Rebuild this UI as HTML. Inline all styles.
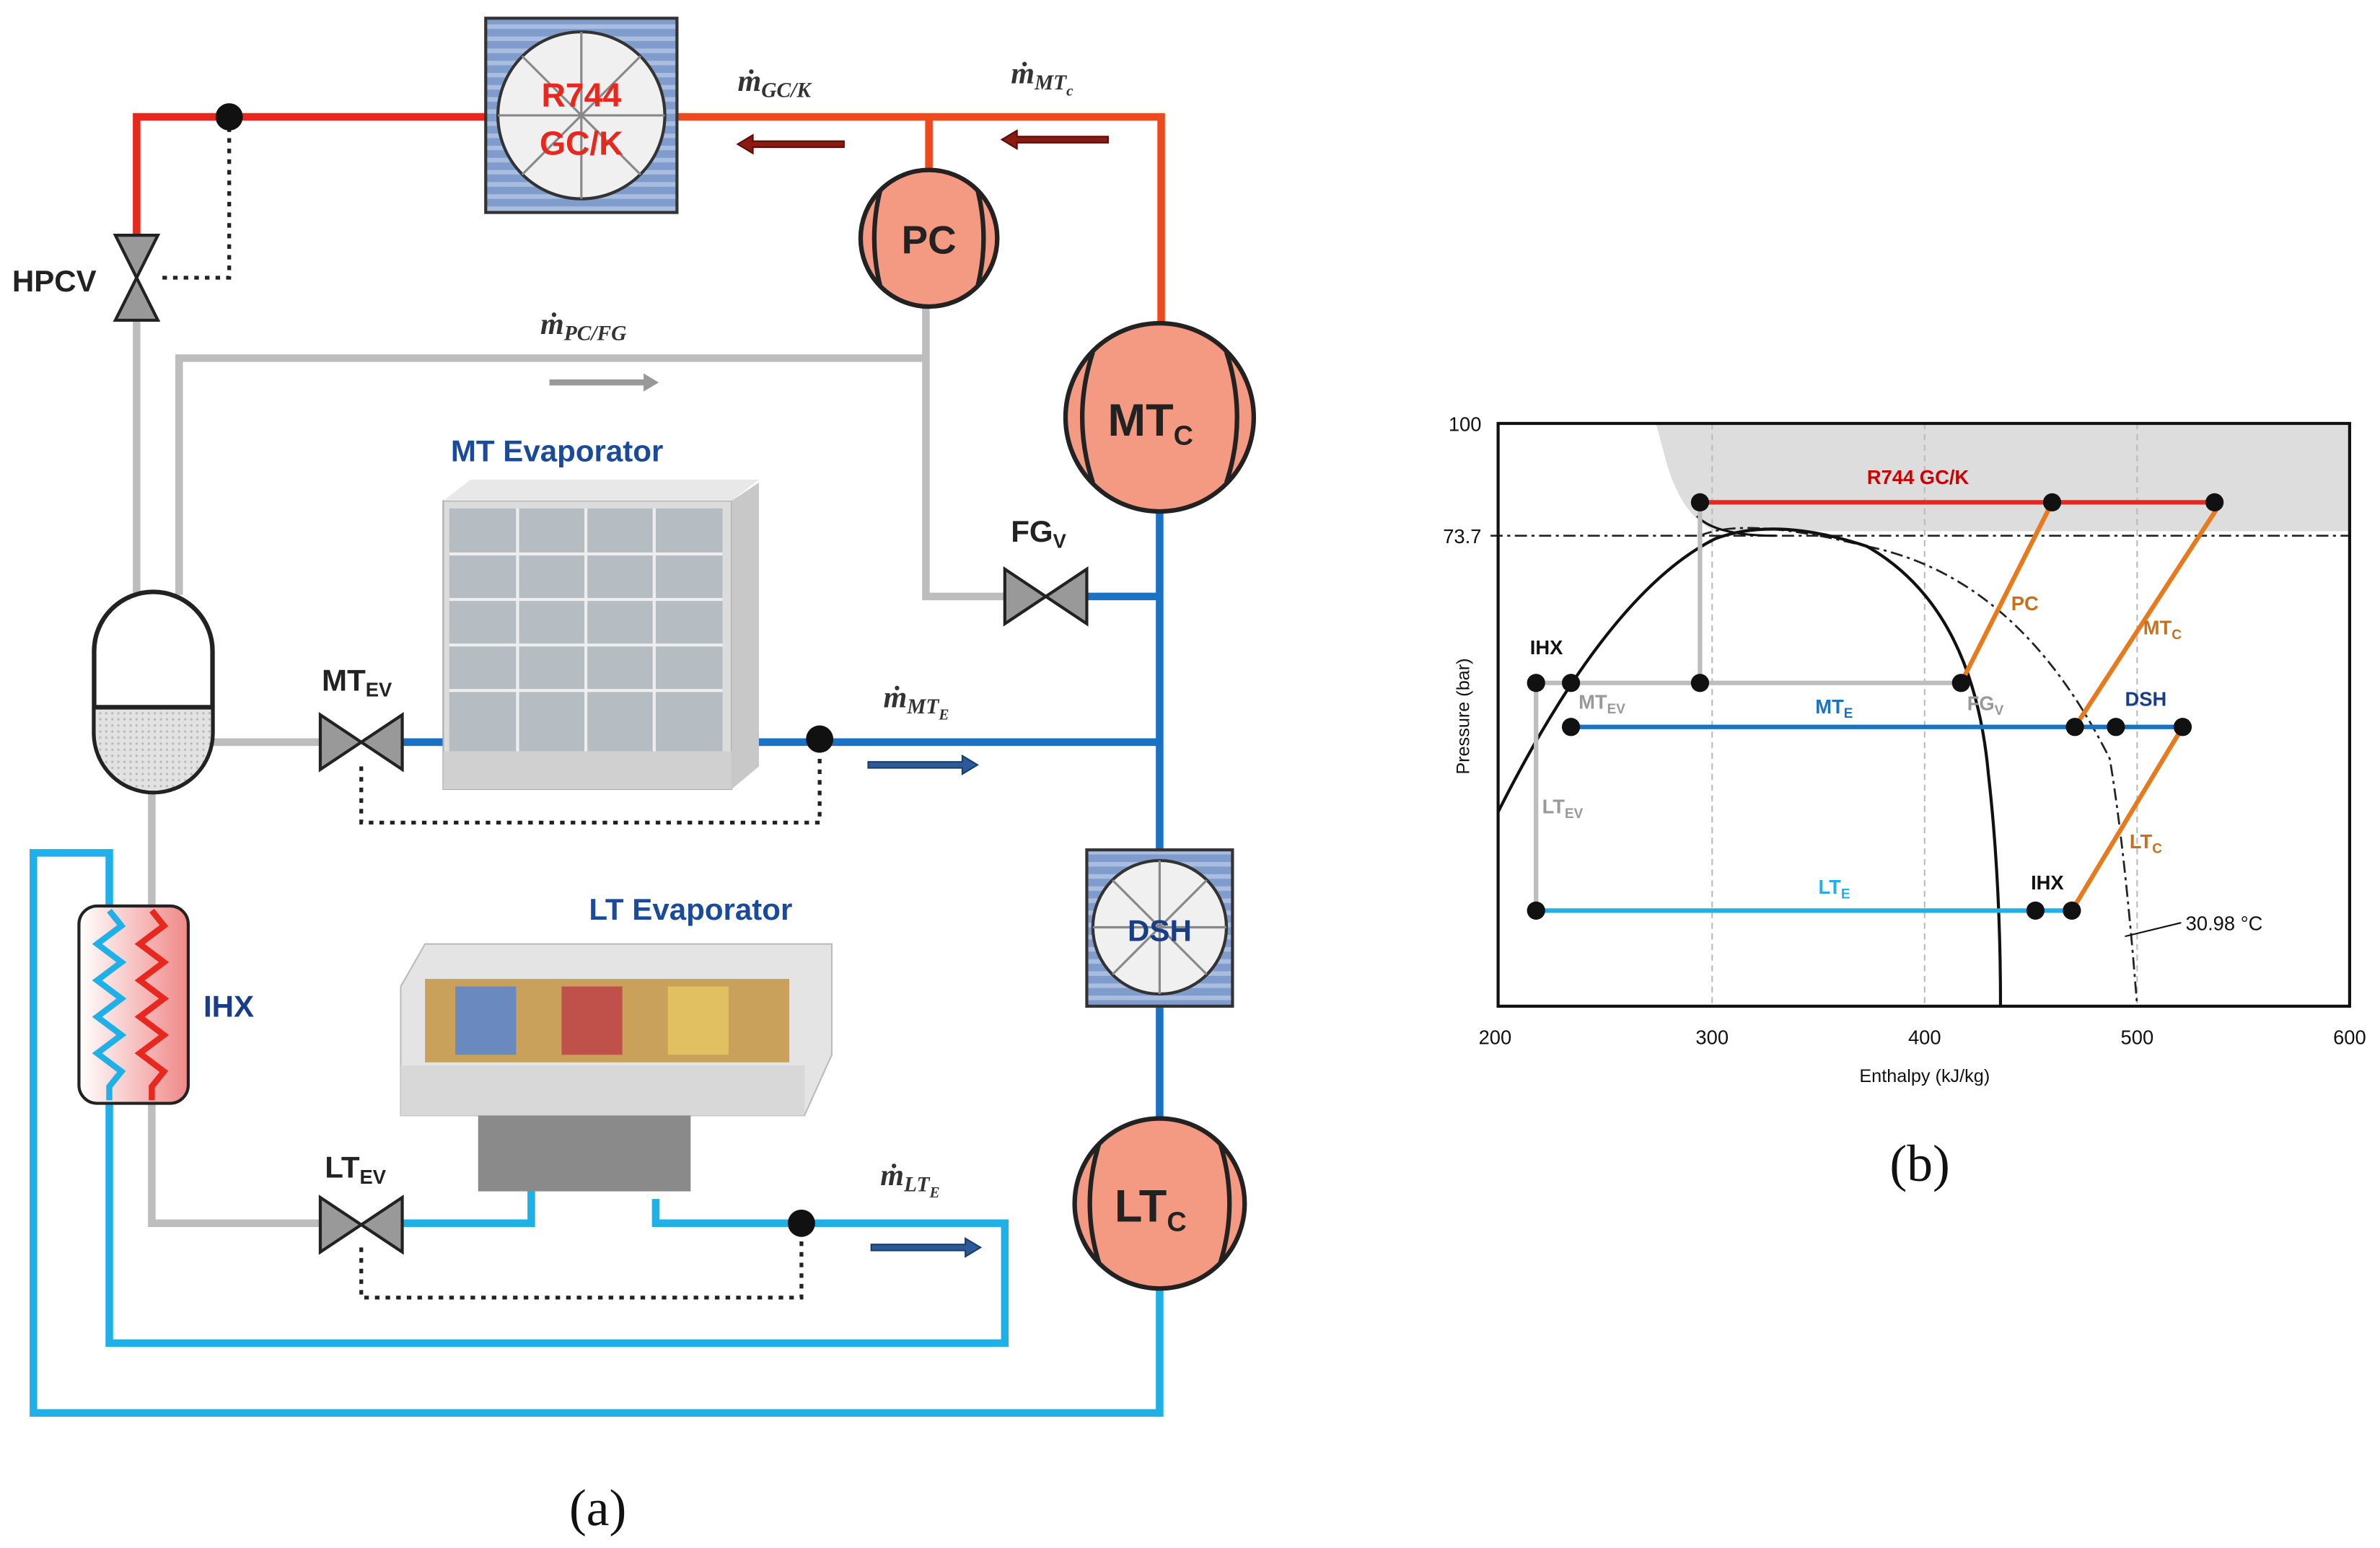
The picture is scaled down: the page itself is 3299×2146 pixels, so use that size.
<!DOCTYPE html>
<html><head><meta charset="utf-8"><style>
html,body{margin:0;padding:0;background:#fff;}
svg{display:block;}
text{font-family:"Liberation Sans",sans-serif;}
text.serif{font-family:"Liberation Serif",serif;}
</style></head><body>
<svg width="3299" height="2146" viewBox="0 0 1568 1020" xmlns="http://www.w3.org/2000/svg">
<defs>
<pattern id="stripes" width="8" height="8" patternUnits="userSpaceOnUse">
<rect width="8" height="8" fill="#7f9ccc"/><rect width="8" height="3" fill="#a9bde0"/></pattern>
<pattern id="dots" width="4" height="4" patternUnits="userSpaceOnUse"><rect width="4" height="4" fill="#e2e2e2"/><circle cx="2" cy="2" r="0.8" fill="#bbb"/></pattern>
<linearGradient id="ihx" x1="0" x2="1"><stop offset="0" stop-color="#fff"/><stop offset="1" stop-color="#f08888"/></linearGradient>
</defs>
<rect width="1568" height="1020" fill="#fff"/>
<g fill="none" stroke-width="5">
<path d="M90 180 V77 H320" stroke="#e8281e"/>
<path d="M446 77 H765 V215" stroke="#ef4a1e"/>
<path d="M612 77 V115" stroke="#ef4a1e"/>
<path d="M90 205 V392" stroke="#bdbdbd"/>
<path d="M118 392 V236 H610 V200" stroke="#bdbdbd"/>
<path d="M610 236 V393 H664" stroke="#bdbdbd"/>
<path d="M140 489 H212" stroke="#bdbdbd"/>
<path d="M100 522 V598" stroke="#bdbdbd"/>
<path d="M100 727 V806 H212" stroke="#bdbdbd"/>
<path d="M764 337 V562" stroke="#1a72c4"/>
<path d="M714 393 H764" stroke="#1a72c4"/>
<path d="M263 489 H764" stroke="#1a72c4"/>
<path d="M764 662 V738" stroke="#1a72c4"/>
<path d="M764 849 V931 H22 V562 H72 V600" stroke="#1fb0e8"/>
<path d="M263 806 H350 V772" stroke="#1fb0e8"/>
<path d="M432 790 V806 H662 V885 H72 V725" stroke="#1fb0e8"/>
</g>
<g fill="none" stroke="#222" stroke-width="2.5" stroke-dasharray="3,4">
<path d="M151 77 V183 H105"/>
<path d="M238 505 V542 H540 V487"/>
<path d="M238 822 V855 H528 V806"/>
</g>
<circle cx="151" cy="77" r="9" fill="#111"/>
<circle cx="540" cy="487" r="9" fill="#111"/>
<circle cx="528" cy="806" r="9" fill="#111"/>
<rect x="320" y="12" width="126" height="128" fill="url(#stripes)" stroke="#333" stroke-width="2"/>
<circle cx="383" cy="76" r="55" fill="#f0f0f0" stroke="#333" stroke-width="2"/>
<g stroke="#888" stroke-width="1.5"><line x1="383" y1="21" x2="383" y2="131"/><line x1="328" y1="76" x2="438" y2="76"/><line x1="344" y1="37" x2="422" y2="115"/><line x1="422" y1="37" x2="344" y2="115"/></g>
<text x="383" y="70" text-anchor="middle" font-size="22" font-weight="bold" fill="#e8281e">R744</text>
<text x="383" y="102" text-anchor="middle" font-size="22" font-weight="bold" fill="#e8281e">GC/K</text>
<rect x="716" y="560" width="96" height="103" fill="url(#stripes)" stroke="#333" stroke-width="2"/>
<circle cx="764" cy="611" r="44" fill="#f0f0f0" stroke="#333" stroke-width="2"/>
<g stroke="#888" stroke-width="1.5"><line x1="764" y1="567" x2="764" y2="655"/><line x1="720" y1="611" x2="808" y2="611"/><line x1="733" y1="580" x2="795" y2="642"/><line x1="795" y1="580" x2="733" y2="642"/></g>
<text x="764" y="620" text-anchor="middle" font-size="20" font-weight="bold" fill="#1a3d8a">DSH</text>
<g fill="#f49a82" stroke="#222" stroke-width="3">
<circle cx="612" cy="157" r="45"/><circle cx="764" cy="275" r="62"/><circle cx="764" cy="793" r="56"/></g>
<g fill="none" stroke="#222" stroke-width="3">
<path d="M580 125 Q572 157 580 189 M644 125 Q652 157 644 189"/>
<path d="M720 232 Q706 275 720 318 M808 232 Q822 275 808 318"/>
<path d="M724 754 Q712 793 724 832 M804 754 Q816 793 804 832"/>
</g>
<text x="612" y="167" text-anchor="middle" font-size="26" font-weight="bold" fill="#222">PC</text>
<text x="758" y="287" text-anchor="middle" font-size="30" font-weight="bold" fill="#222">MT<tspan font-size="18" dy="6">C</tspan></text>
<text x="758" y="805" text-anchor="middle" font-size="30" font-weight="bold" fill="#222">LT<tspan font-size="18" dy="6">C</tspan></text>
<g fill="#999" stroke="#222" stroke-width="2">
<path d="M76 155 L104 155 L90 183 Z M76 211 L104 211 L90 183 Z"/>
<path d="M662 375 L662 411 L689 393 Z M716 375 L716 411 L689 393 Z"/>
<path d="M211 471 L211 507 L238 489 Z M265 471 L265 507 L238 489 Z"/>
<path d="M211 789 L211 825 L238 807 Z M265 789 L265 825 L238 807 Z"/>
</g>
<rect x="62" y="390" width="78" height="132" rx="39" fill="#fff" stroke="#222" stroke-width="3"/>
<path d="M63 466 H139 V483 A38 38 0 0 1 63 483 Z" fill="url(#dots)"/>
<line x1="62" y1="466" x2="140" y2="466" stroke="#222" stroke-width="3"/>
<rect x="52" y="597" width="72" height="130" rx="12" fill="url(#ihx)" stroke="#222" stroke-width="2"/>
<path d="M72 600 l8 10 l-16 12 l16 12 l-16 12 l16 12 l-16 12 l16 12 l-16 12 l16 12 l-8 10 V725" fill="none" stroke="#1fb0e8" stroke-width="4"/>
<path d="M100 600 l8 10 l-16 12 l16 12 l-16 12 l16 12 l-16 12 l16 12 l-16 12 l16 12 l-8 10 V725" fill="none" stroke="#e8281e" stroke-width="4"/>
<g font-weight="bold" fill="#222">
<text x="8" y="192" font-size="20">HPCV</text>
<text x="212" y="455" font-size="20">MT<tspan font-size="13" dy="4">EV</tspan></text>
<text x="214" y="776" font-size="20">LT<tspan font-size="13" dy="4">EV</tspan></text>
<text x="666" y="357" font-size="20">FG<tspan font-size="13" dy="4">V</tspan></text>
<text x="134" y="670" font-size="20" fill="#1a3d8a">IHX</text>
<text x="297" y="304" font-size="20" fill="#1a4b9a">MT Evaporator</text>
<text x="388" y="606" font-size="20" fill="#1a4b9a">LT Evaporator</text>
</g>
<g font-style="italic" font-weight="bold" fill="#333" font-size="20">
<text class="serif" x="486" y="60">ṁ<tspan font-size="14" dy="4">GC/K</tspan></text>
<text class="serif" x="666" y="55">ṁ<tspan font-size="14" dy="4">MT</tspan><tspan font-size="10" dy="4">c</tspan></text>
<text class="serif" x="356" y="220">ṁ<tspan font-size="14" dy="4">PC/FG</tspan></text>
<text class="serif" x="582" y="466">ṁ<tspan font-size="14" dy="4">MT</tspan><tspan font-size="10" dy="4">E</tspan></text>
<text class="serif" x="580" y="781">ṁ<tspan font-size="14" dy="4">LT</tspan><tspan font-size="10" dy="4">E</tspan></text>
</g>
<path d="M556 93 H496 L496 89 L486 95 L496 101 L496 97 H556 Z" fill="#8b1a10" stroke="#5a0d08"/>
<path d="M730 90 H670 L670 86 L660 92 L670 98 L670 94 H730 Z" fill="#8b1a10" stroke="#5a0d08"/>
<path d="M362 250 H424 V246 L434 252 L424 258 V254 H362 Z" fill="#999"/>
<path d="M572 502 H634 V498 L644 504 L634 510 V506 H572 Z" fill="#2a5a9a" stroke="#1a3d6a"/>
<path d="M574 820 H636 V816 L646 822 L636 828 V824 H574 Z" fill="#2a5a9a" stroke="#1a3d6a"/>
<rect x="292" y="330" width="190" height="190" fill="#dcdcdc" stroke="#aaa"/>
<path d="M482 330 L500 318 V505 L482 520 Z" fill="#c8c8c8"/>
<path d="M292 330 L310 316 H500 L482 330 Z" fill="#e8e8e8"/>
<rect x="296" y="335" width="180" height="160" fill="#b5bcc2"/>
<g stroke="#eee" stroke-width="2"><line x1="341" y1="335" x2="341" y2="495"/><line x1="386" y1="335" x2="386" y2="495"/><line x1="431" y1="335" x2="431" y2="495"/>
<line x1="296" y1="365" x2="476" y2="365"/><line x1="296" y1="395" x2="476" y2="395"/><line x1="296" y1="425" x2="476" y2="425"/><line x1="296" y1="455" x2="476" y2="455"/></g>
<rect x="292" y="495" width="190" height="25" fill="#d0d0d0"/>
<path d="M264 650 L280 622 H548 V695 L530 735 H264 Z" fill="#e4e4e4" stroke="#bbb"/>
<rect x="280" y="645" width="240" height="55" fill="#c9a15a"/>
<rect x="300" y="650" width="40" height="45" fill="#6a8abf"/><rect x="370" y="650" width="40" height="45" fill="#c0504a"/><rect x="440" y="650" width="40" height="45" fill="#e0c060"/>
<rect x="264" y="702" width="266" height="33" fill="#d8d8d8"/>
<rect x="315" y="735" width="140" height="50" fill="#8a8a8a"/>
<text class="serif" x="375" y="1005" font-size="34" fill="#111">(a)</text>
<text class="serif" x="1245" y="778" font-size="34" fill="#111">(b)</text>

<path d="M1091 279 L1098 305 Q1108 340 1130 350 H1548 V279 Z" fill="#ddd"/>
<g stroke="#bbb" stroke-width="1" stroke-dasharray="4,3">
<line x1="1128" y1="279" x2="1128" y2="663"/><line x1="1268" y1="279" x2="1268" y2="663"/><line x1="1408" y1="279" x2="1408" y2="663"/>
</g>
<line x1="982" y1="353" x2="1548" y2="353" stroke="#222" stroke-dasharray="8,3,2,3" stroke-width="1.2"/>
<path d="M1120 353 Q1150 340 1230 360 Q1330 380 1390 500 Q1400 560 1408 663" fill="none" stroke="#222" stroke-dasharray="8,3,2,3" stroke-width="1.3"/>
<path d="M987 535 Q1060 390 1130 355 Q1170 340 1230 360 Q1300 400 1310 510 Q1318 580 1318 663" fill="none" stroke="#111" stroke-width="2"/>
<path d="M1118 340 Q1130 353 1170 353" fill="none" stroke="#111" stroke-width="1.5"/>
<rect x="987" y="279" width="561" height="384" fill="none" stroke="#111" stroke-width="2"/>
<g fill="none" stroke-width="3">
<path d="M1120 331 H1459" stroke="#e8281e"/>
<path d="M1120 331 V450 M1012 450 H1292 M1012 450 V600" stroke="#bdbdbd"/>
<path d="M1035 479 H1438" stroke="#1a72c4"/>
<path d="M1012 600 H1365" stroke="#1fb0e8"/>
<path d="M1292 450 L1352 331 M1367 479 L1462 333 M1365 600 L1438 479" stroke="#e87a1e"/>
</g>
<g fill="#111">
<circle cx="1120" cy="331" r="6"/><circle cx="1352" cy="331" r="6"/><circle cx="1459" cy="331" r="6"/>
<circle cx="1012" cy="450" r="6"/><circle cx="1035" cy="450" r="6"/><circle cx="1120" cy="450" r="6"/><circle cx="1292" cy="450" r="6"/>
<circle cx="1035" cy="479" r="6"/><circle cx="1367" cy="479" r="6"/><circle cx="1394" cy="479" r="6"/><circle cx="1438" cy="479" r="6"/>
<circle cx="1012" cy="600" r="6"/><circle cx="1341" cy="600" r="6"/><circle cx="1365" cy="600" r="6"/>
</g>
<line x1="1400" y1="617" x2="1437" y2="608" stroke="#111"/>
<g font-size="13" font-weight="bold">
<text x="1230" y="319" fill="#c00">R744 GC/K</text>
<text x="1325" y="402" fill="#c8701e">PC</text>
<text x="1412" y="418" fill="#c8701e">MT<tspan font-size="9" dy="3">C</tspan></text>
<text x="1403" y="559" fill="#c8701e">LT<tspan font-size="9" dy="3">C</tspan></text>
<text x="1008" y="431" fill="#111">IHX</text>
<text x="1040" y="467" fill="#999">MT<tspan font-size="9" dy="3">EV</tspan></text>
<text x="1196" y="470" fill="#1a72c4">MT<tspan font-size="9" dy="3">E</tspan></text>
<text x="1296" y="468" fill="#999">FG<tspan font-size="9" dy="3">V</tspan></text>
<text x="1400" y="465" fill="#1a3d8a">DSH</text>
<text x="1016" y="536" fill="#999">LT<tspan font-size="9" dy="3">EV</tspan></text>
<text x="1198" y="589" fill="#1fb0e8">LT<tspan font-size="9" dy="3">E</tspan></text>
<text x="1338" y="586" fill="#111">IHX</text>
</g>
<text x="1440" y="613" font-size="13" fill="#111">30.98 °C</text>
<g font-size="13" fill="#111">
<text x="976" y="284" text-anchor="end">100</text>
<text x="976" y="358" text-anchor="end">73.7</text>
<text x="985" y="688" text-anchor="middle">200</text><text x="1128" y="688" text-anchor="middle">300</text>
<text x="1268" y="688" text-anchor="middle">400</text><text x="1408" y="688" text-anchor="middle">500</text><text x="1548" y="688" text-anchor="middle">600</text>
<text x="1268" y="713" text-anchor="middle" font-size="12">Enthalpy (kJ/kg)</text>
<text transform="translate(968 472) rotate(-90)" text-anchor="middle" font-size="12">Pressure (bar)</text>
</g>
</svg>
</body></html>
